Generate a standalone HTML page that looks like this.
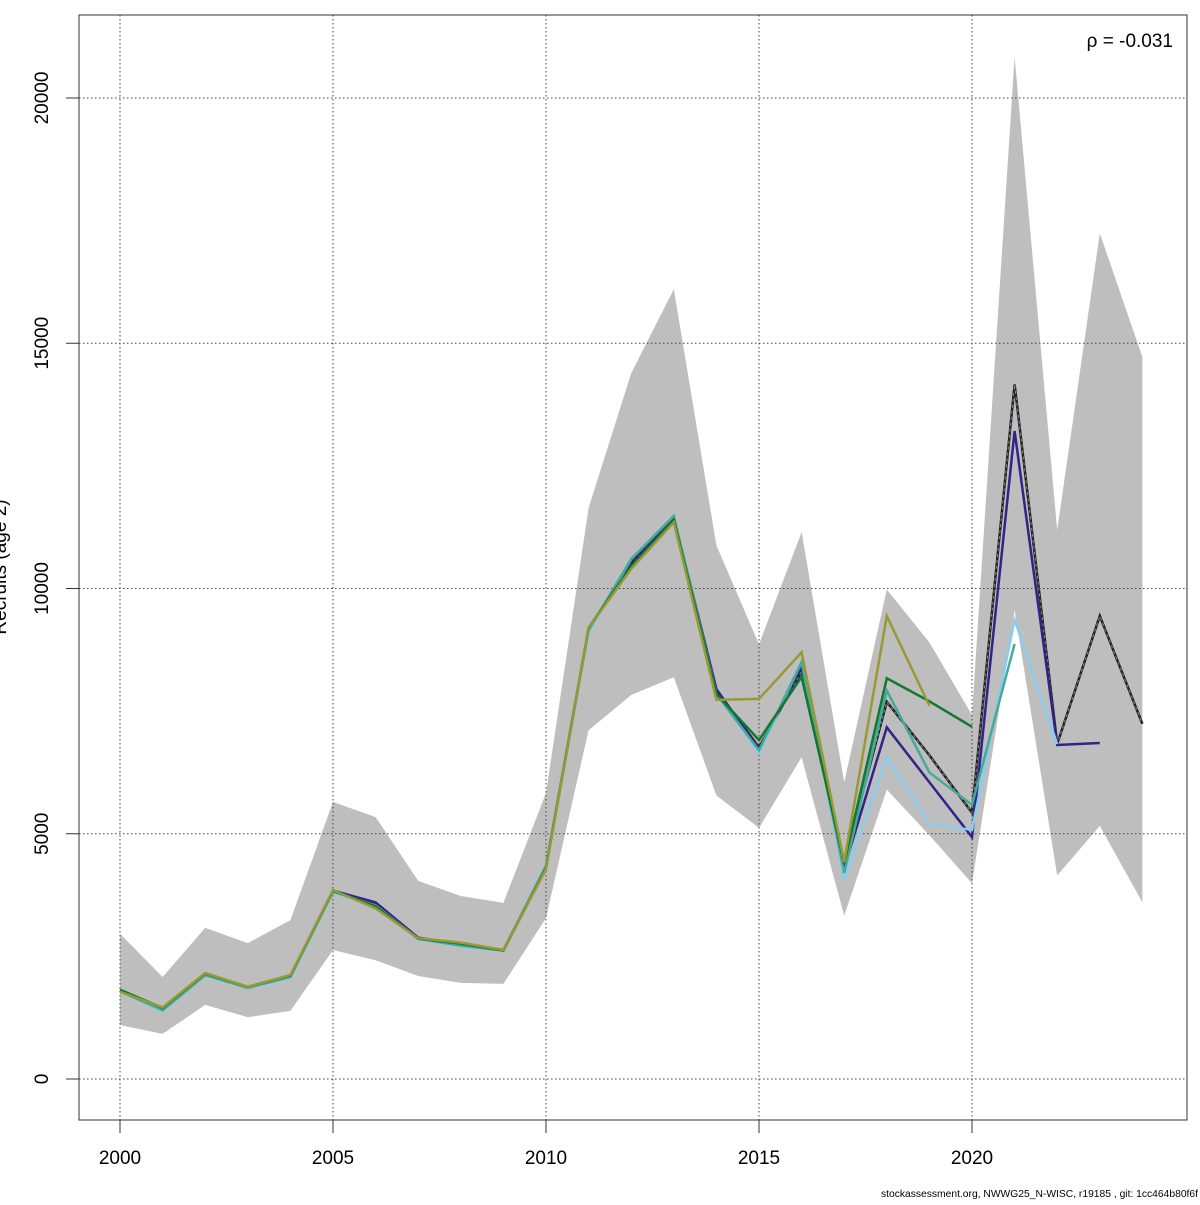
<!DOCTYPE html>
<html><head><meta charset="utf-8"><style>
body{margin:0;background:#fff}
svg text{font-family:"Liberation Sans",sans-serif}
</style></head><body>
<svg id="chart" width="1200" height="1200" viewBox="0 0 1200 1200" xmlns="http://www.w3.org/2000/svg">
<rect width="1200" height="1200" fill="#fff"/>
<g id="band"></g>
<g id="grid"></g>
<g id="lines"></g>
<rect x="79" y="15" width="1108" height="1105" fill="none" stroke="#333" stroke-width="1"/>
<g id="axes"></g>
<text x="1173" y="47" font-size="19" text-anchor="end">ρ = -0.031</text>
<text transform="translate(6,567) rotate(-90)" font-size="19" text-anchor="middle">Recruits (age 2)</text>
<text x="620" y="1214" font-size="19" text-anchor="middle">Year</text>
<text x="1198" y="1197" font-size="10.3" text-anchor="end">stockassessment.org, NWWG25_N-WISC, r19185 , git: 1cc464b80f6f</text>
</svg>
<script>
const years=[2000,2001,2002,2003,2004,2005,2006,2007,2008,2009,2010,2011,2012,2013,2014,2015,2016,2017,2018,2019,2020,2021,2022,2023,2024];
const bandUpper=[2960,2080,3080,2770,3240,5650,5340,4040,3730,3590,5830,11640,14390,16100,10880,8860,11150,6050,9980,8900,7420,20830,11190,17240,14720];
const bandLower=[1100,920,1510,1260,1390,2630,2420,2100,1960,1940,3280,7110,7830,8190,5780,5120,6560,3330,5900,4970,3990,9560,4150,5160,3600];
const baseRun=[1800,1420,2120,1860,2100,3830,3590,2860,2740,2620,4340,9170,10520,11430,7930,6760,8310,4420,7690,6600,5430,14160,6830,9440,7240];
const peelNavy=[1800,1430,2120,1860,2100,3840,3600,2880,2750,2630,4320,9150,10550,11450,7950,6720,8400,4300,7170,6050,4930,13210,6810,6850];
const peelLightBlue=[1780,1380,2110,1850,2060,3800,3520,2850,2700,2610,4360,9100,10600,11480,7850,6650,8500,4070,6560,5200,5080,9360,6830];
const peelTeal=[1790,1400,2120,1860,2080,3820,3540,2860,2720,2620,4350,9150,10600,11480,7850,6700,8500,4200,7920,6250,5590,8870];
const peelGreen=[1820,1450,2150,1880,2110,3840,3520,2860,2760,2620,4300,9200,10450,11400,7850,6910,8200,4400,8170,7700,7180];
const peelOlive=[1780,1460,2160,1880,2120,3850,3480,2870,2780,2630,4280,9200,10400,11350,7730,7750,8700,4420,9440,7610];
const xTicks=[2000,2005,2010,2015,2020];
const yTicks=[0,5000,10000,15000,20000];
const NS="http://www.w3.org/2000/svg";
const X=y=>120+(y-2000)*(972-120)/20;
const Y=v=>1079-v*(1079-98)/20000;
function mk(tag,attrs,parent){const e=document.createElementNS(NS,tag);for(const k in attrs)e.setAttribute(k,attrs[k]);parent.appendChild(e);return e;}
const band=document.getElementById('band'),grid=document.getElementById('grid'),lines=document.getElementById('lines'),axes=document.getElementById('axes');
let pts=years.map((y,i)=>X(y)+','+Y(bandUpper[i]));
for(let i=years.length-1;i>=0;i--)pts.push(X(years[i])+','+Y(bandLower[i]));
const poly=mk('polygon',{points:pts.join(' '),fill:'#bebebe'},band);


xTicks.forEach(t=>{
 const l=mk('line',{x1:X(t),x2:X(t),y1:15,y2:1120,stroke:'#444','stroke-dasharray':'1.5,2.5','stroke-width':1},grid);
 
 
 const tk=mk('line',{x1:X(t),x2:X(t),y1:1120,y2:1133,stroke:'#333'},axes);
 
 
 const tx=mk('text',{x:X(t),y:1164,'font-size':19,'text-anchor':'middle'},axes);tx.textContent=t;
 
 
});
yTicks.forEach(t=>{
 const l=mk('line',{x1:79,x2:1187,y1:Y(t),y2:Y(t),stroke:'#444','stroke-dasharray':'1.5,2.5','stroke-width':1},grid);
 
 
 const tk=mk('line',{x1:66,x2:79,y1:Y(t),y2:Y(t),stroke:'#333'},axes);
 
 
 const tx=mk('text',{'font-size':19,'text-anchor':'middle',transform:`translate(48,${Y(t)}) rotate(-90)`},axes);tx.textContent=t;
 
 
});
function series(vals,color,name,dash){
 const p=vals.map((v,i)=>X(years[i])+','+Y(v)).join(' ');
 const e=mk('polyline',{points:p,fill:'none',stroke:color,'stroke-width':2.5},lines);
 
 
 if(dash){const d=mk('polyline',{points:p,fill:'none',stroke:'#888','stroke-width':1,'stroke-dasharray':'3,3'},lines);
 
 }
}
series(baseRun,'#222','base-run-line',true);
series(peelNavy,'#332288','peel-2023-line');
series(peelLightBlue,'#88ccee','peel-2022-line');
series(peelTeal,'#44aa99','peel-2021-line');
series(peelGreen,'#117733','peel-2020-line');
series(peelOlive,'#999933','peel-2019-line');
</script>
</body></html>
